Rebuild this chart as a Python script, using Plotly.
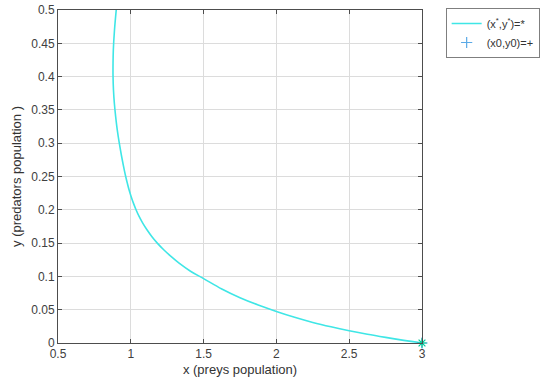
import plotly.graph_objects as go

# Trajectory of the predator-prey system in the (x, y) phase plane
prey_x = [3.0, 2.875, 2.75, 2.625, 2.5, 2.375, 2.25, 2.125, 2.0, 1.875, 1.75, 1.625,
          1.5, 1.41, 1.334, 1.276, 1.226, 1.182, 1.144, 1.111, 1.082, 1.057, 1.036,
          1.018, 1.002, 0.988, 0.976, 0.965, 0.955, 0.937, 0.921, 0.907, 0.896,
          0.887, 0.881, 0.878, 0.878, 0.880, 0.888, 0.900]
predator_y = [0.0, 0.004, 0.0084, 0.0131, 0.0184, 0.0243, 0.0309, 0.0386, 0.0474, 0.0570, 0.068, 0.0811,
              0.0967, 0.1078, 0.1195, 0.13, 0.14, 0.15, 0.16, 0.17, 0.18, 0.19, 0.20,
              0.21, 0.22, 0.23, 0.24, 0.25, 0.26, 0.28, 0.30, 0.32, 0.34,
              0.36, 0.38, 0.40, 0.42, 0.44, 0.47, 0.50]

# Initial point (x0, y0)
x0 = [3.0]
y0 = [0.0]

x_ticks = [0.5, 1, 1.5, 2, 2.5, 3]
y_ticks = [0, 0.05, 0.1, 0.15, 0.2, 0.25, 0.3, 0.35, 0.4, 0.45, 0.5]

font_family = "Liberation Sans, Arial, sans-serif"
axis_color = "#4d4d4d"
grid_color = "#dcdcdc"

fig = go.Figure()

fig.add_trace(go.Scatter(
    x=prey_x, y=predator_y, mode="lines",
    line=dict(color="#3fe6e6", width=1.6, shape="spline", smoothing=1.0),
    name="(x<sup>*</sup>,y<sup>*</sup>)=*",
))

fig.add_trace(go.Scatter(
    x=x0, y=y0, mode="markers",
    marker=dict(symbol="cross-thin", size=8, line=dict(color="#5aa9e6", width=1.2)),
    name="(x0,y0)=+", cliponaxis=False,
))

fig.add_trace(go.Scatter(
    x=x0, y=y0, mode="markers", showlegend=False, cliponaxis=False,
    marker=dict(symbol="asterisk-open", size=8, line=dict(color="#f5866a", width=1.2)),
))

axis_common = dict(
    showline=True, linecolor=axis_color, linewidth=1, mirror="ticks",
    ticks="inside", ticklen=4, tickcolor=axis_color, tickwidth=1,
    showgrid=True, gridcolor=grid_color, gridwidth=1,
    zeroline=False,
    tickfont=dict(family=font_family, size=12, color="#404040"),
)

fig.update_xaxes(
    range=[0.5, 3], tickvals=x_ticks, ticktext=[f"{v:g}" for v in x_ticks],
    title=dict(text="x (preys population)", standoff=4,
               font=dict(family=font_family, size=13, color="#333333")),
    **axis_common,
)
fig.update_yaxes(
    range=[0, 0.5], tickvals=y_ticks, ticktext=[f"{v:g}" for v in y_ticks],
    title=dict(text="y (predators population )", standoff=6,
               font=dict(family=font_family, size=13, color="#333333")),
    **axis_common,
)

fig.update_layout(
    width=558, height=387,
    margin=dict(l=58, r=136, t=10, b=44, autoexpand=False),
    paper_bgcolor="white", plot_bgcolor="white",
    font=dict(family=font_family, size=11, color="#333333"),
    legend=dict(
        x=1.065, y=1.006, xanchor="left", yanchor="top",
        bordercolor="#7f7f7f", borderwidth=1, bgcolor="white",
        font=dict(family=font_family, size=11, color="#333333"),
        tracegroupgap=0, itemwidth=30,
    ),
    showlegend=True,
)

fig.write_html("out.html")
